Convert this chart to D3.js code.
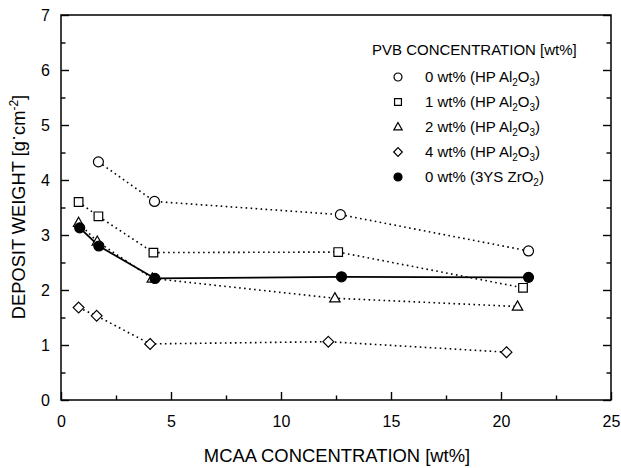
<!DOCTYPE html>
<html>
<head>
<meta charset="utf-8">
<script src="https://cdn.jsdelivr.net/npm/d3@7"></script>
<style>
  html, body { margin: 0; padding: 0; background: #fff; }
  svg { display: block; font-family: "Liberation Sans", Arial, Helvetica, sans-serif; }
</style>
</head>
<body>
<svg id="chart" width="621" height="468"></svg>
<script>
// ---------------- data ----------------
const xTicks = [0, 5, 10, 15, 20, 25];
const yTicks = [0, 1, 2, 3, 4, 5, 6, 7];
const xMinorTicks = [2.5, 7.5, 12.5, 17.5, 22.5];
const yMinorTicks = [0.5, 1.5, 2.5, 3.5, 4.5, 5.5, 6.5];

const pvb0X = [1.7, 4.25, 12.7, 21.25];
const pvb0Y = [4.33, 3.61, 3.37, 2.71];
const pvb1X = [0.8, 1.7, 4.2, 12.6, 21.0];
const pvb1Y = [3.60, 3.34, 2.68, 2.69, 2.04];
const pvb2X = [0.8, 1.65, 4.15, 12.45, 20.75];
const pvb2Y = [3.22, 2.88, 2.21, 1.85, 1.70];
const pvb4X = [0.8, 1.62, 4.05, 12.15, 20.25];
const pvb4Y = [1.68, 1.53, 1.02, 1.06, 0.87];
const zrX = [0.85, 1.72, 4.27, 12.75, 21.25];
const zrY = [3.13, 2.80, 2.21, 2.24, 2.23];

const legendTitle = "PVB CONCENTRATION [wt%]";
const legendPrefixes = ["0 wt% (HP Al", "1 wt% (HP Al", "2 wt% (HP Al", "4 wt% (HP Al", "0 wt% (3YS ZrO"];
const xTitle = "MCAA CONCENTRATION [wt%]";

// ---------------- setup ----------------
const svg = d3.select("#chart");
const L = 61, R = 611, T = 15, B = 400;
const x = d3.scaleLinear().domain([0, 25]).range([L, R]);
const y = d3.scaleLinear().domain([0, 7]).range([B, T]);

const series = [
  {xs: pvb0X, ys: pvb0Y, shape: "circle", filled: false, solid: false},
  {xs: pvb1X, ys: pvb1Y, shape: "square", filled: false, solid: false},
  {xs: pvb2X, ys: pvb2Y, shape: "triangle", filled: false, solid: false},
  {xs: pvb4X, ys: pvb4Y, shape: "diamond", filled: false, solid: false},
  {xs: zrX, ys: zrY, shape: "circle", filled: true, solid: true}
];

function shapePath(shape, s) {
  if (shape === "circle") {
    const r = 5 * s;
    return `M${r},0A${r},${r} 0 1,1 ${-r},0A${r},${r} 0 1,1 ${r},0Z`;
  }
  if (shape === "square") {
    const h = 4.3 * s;
    return `M${-h},${-h}H${h}V${h}H${-h}Z`;
  }
  if (shape === "triangle") {
    const w = 5.2 * s, t = 5.6 * s, b = 3.6 * s;
    return `M0,${-t}L${w},${b}L${-w},${b}Z`;
  }
  if (shape === "diamond") {
    const h = 5.4 * s;
    return `M0,${-h}L${h},0L0,${h}L${-h},0Z`;
  }
}

// ---------------- axes ----------------
const gx = svg.append("g").attr("transform", `translate(0,${B})`)
  .call(d3.axisBottom(x).tickValues(xTicks).tickSizeInner(-8).tickSizeOuter(0).tickPadding(15.5).tickFormat(d3.format("d")));
const gxm = svg.append("g").attr("transform", `translate(0,${B})`)
  .call(d3.axisBottom(x).tickValues(xMinorTicks).tickSizeInner(-4.5).tickSizeOuter(0).tickFormat(""));
const gy = svg.append("g").attr("transform", `translate(${L},0)`)
  .call(d3.axisLeft(y).tickValues(yTicks).tickSizeInner(-8).tickSizeOuter(0).tickPadding(11).tickFormat(d3.format("d")));
const gym = svg.append("g").attr("transform", `translate(${L},0)`)
  .call(d3.axisLeft(y).tickValues(yMinorTicks).tickSizeInner(-4.5).tickSizeOuter(0).tickFormat(""));
const gr = svg.append("g").attr("transform", `translate(${R},0)`)
  .call(d3.axisRight(y).tickValues(yTicks).tickSizeInner(-8).tickSizeOuter(0).tickFormat(""));
const grm = svg.append("g").attr("transform", `translate(${R},0)`)
  .call(d3.axisRight(y).tickValues(yMinorTicks).tickSizeInner(-4.5).tickSizeOuter(0).tickFormat(""));

[gx, gxm, gy, gym, gr, grm].forEach(g => {
  g.select(".domain").remove();
  g.selectAll(".tick line").attr("stroke", "#000").attr("stroke-width", 1.4);
  g.selectAll(".tick text").attr("fill", "#000").attr("font-size", 16)
    .attr("font-family", "'Liberation Sans', Arial, sans-serif");
});

svg.append("rect").attr("x", L).attr("y", T).attr("width", R - L).attr("height", B - T)
  .attr("fill", "none").attr("stroke", "#000").attr("stroke-width", 1.5);

// ---------------- lines ----------------
const plot = svg.append("g");
series.forEach(s => {
  const pts = s.xs.map((v, i) => [x(v), y(s.ys[i])]);
  plot.append("path")
    .attr("d", d3.line()(pts))
    .attr("fill", "none")
    .attr("stroke", "#000")
    .attr("stroke-width", s.solid ? 1.8 : 1.6)
    .attr("stroke-dasharray", s.solid ? null : "1.6,3.4");
});

// ---------------- markers ----------------
series.forEach(s => {
  plot.selectAll(null).data(s.xs.map((v, i) => [v, s.ys[i]])).enter()
    .append("path")
    .attr("transform", d => `translate(${x(d[0])},${y(d[1])})`)
    .attr("d", shapePath(s.shape, 1))
    .attr("fill", s.filled ? "#000" : "#fff")
    .attr("stroke", "#000")
    .attr("stroke-width", 1.2);
});

// ---------------- legend ----------------
const lg = svg.append("g");
lg.append("text")
  .attr("x", 372).attr("y", 55)
  .attr("font-size", 15).attr("fill", "#000")
  .text(legendTitle);

series.forEach((s, i) => {
  const cy = 77 + i * 25;
  lg.append("path")
    .attr("transform", `translate(398,${cy})`)
    .attr("d", shapePath(s.shape, 0.8))
    .attr("fill", s.filled ? "#000" : "#fff")
    .attr("stroke", "#000").attr("stroke-width", 1.2);
  const t = lg.append("text")
    .attr("x", 425).attr("y", cy + 5)
    .attr("font-size", 15).attr("fill", "#000");
  t.append("tspan").text(legendPrefixes[i]);
  t.append("tspan").attr("dy", 4).attr("font-size", 10).text("2");
  if (s.filled) {
    t.append("tspan").attr("dy", -4).text(")");
  } else {
    t.append("tspan").attr("dy", -4).text("O");
    t.append("tspan").attr("dy", 4).attr("font-size", 10).text("3");
    t.append("tspan").attr("dy", -4).text(")");
  }
});

// ---------------- axis titles ----------------
svg.append("text")
  .attr("x", (L + R) / 2 + 1).attr("y", 462)
  .attr("text-anchor", "middle").attr("font-size", 18.4).attr("fill", "#000")
  .text(xTitle);

const yt = svg.append("text")
  .attr("transform", "translate(25,207) rotate(-90)")
  .attr("text-anchor", "middle").attr("font-size", 18.3).attr("fill", "#000");
yt.append("tspan").text("DEPOSIT WEIGHT [g");
yt.append("tspan").attr("dy", -6).text("·");
yt.append("tspan").attr("dy", 6).text("cm");
yt.append("tspan").attr("dy", -7).attr("font-size", 12).text("-2");
yt.append("tspan").attr("dy", 7).text("]");
</script>
</body>
</html>
